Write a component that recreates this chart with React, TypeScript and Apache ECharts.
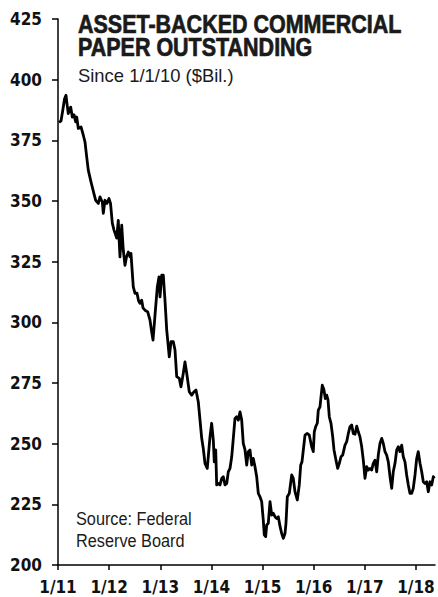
import React, { useEffect, useRef } from "react";
import * as echarts from "echarts";

const years: number[] = [
  2011.02, 2011.059, 2011.098, 2011.127, 2011.156, 2011.176, 2011.201, 2011.248, 2011.28, 2011.313,
  2011.346, 2011.366, 2011.397, 2011.45, 2011.495, 2011.528, 2011.561, 2011.592, 2011.645, 2011.71,
  2011.737, 2011.788, 2011.821, 2011.866, 2011.886, 2011.919, 2011.958, 2011.997, 2012.027, 2012.062,
  2012.095, 2012.148, 2012.179, 2012.193, 2012.212, 2012.246, 2012.277, 2012.31, 2012.34, 2012.375,
  2012.408, 2012.427, 2012.472, 2012.506, 2012.545, 2012.574, 2012.603, 2012.637, 2012.662, 2012.701,
  2012.754, 2012.799, 2012.832, 2012.858, 2012.897, 2012.942, 2012.975, 2012.995, 2013.028, 2013.059,
  2013.092, 2013.126, 2013.176, 2013.21, 2013.255, 2013.288, 2013.321, 2013.372, 2013.405, 2013.45,
  2013.483, 2013.517, 2013.567, 2013.614, 2013.659, 2013.698, 2013.743, 2013.777, 2013.81, 2013.841,
  2013.874, 2013.919, 2013.972, 2014.005, 2014.037, 2014.056, 2014.084, 2014.103, 2014.135, 2014.168,
  2014.201, 2014.232, 2014.266, 2014.299, 2014.33, 2014.363, 2014.397, 2014.428, 2014.461, 2014.494,
  2014.526, 2014.559, 2014.592, 2014.623, 2014.657, 2014.69, 2014.721, 2014.754, 2014.788, 2014.819,
  2014.852, 2014.885, 2014.917, 2014.95, 2014.983, 2015.014, 2015.034, 2015.061, 2015.081, 2015.112,
  2015.146, 2015.179, 2015.21, 2015.243, 2015.277, 2015.308, 2015.341, 2015.374, 2015.406, 2015.439,
  2015.458, 2015.484, 2015.523, 2015.57, 2015.601, 2015.634, 2015.679, 2015.718, 2015.746, 2015.771,
  2015.797, 2015.83, 2015.875, 2015.914, 2015.961, 2015.992, 2016.012, 2016.039, 2016.07, 2016.09,
  2016.123, 2016.143, 2016.168, 2016.201, 2016.227, 2016.254, 2016.28, 2016.305, 2016.338, 2016.372,
  2016.397, 2016.436, 2016.469, 2016.501, 2016.534, 2016.567, 2016.612, 2016.645, 2016.677, 2016.71,
  2016.743, 2016.774, 2016.808, 2016.841, 2016.872, 2016.905, 2016.939, 2016.97, 2017.003, 2017.036,
  2017.068, 2017.101, 2017.134, 2017.165, 2017.199, 2017.232, 2017.263, 2017.296, 2017.33, 2017.361,
  2017.394, 2017.427, 2017.459, 2017.492, 2017.525, 2017.556, 2017.59, 2017.623, 2017.654, 2017.687,
  2017.721, 2017.752, 2017.785, 2017.818, 2017.85, 2017.883, 2017.916, 2017.947, 2017.981, 2018.014,
  2018.045, 2018.079, 2018.112, 2018.143, 2018.176, 2018.209, 2018.241, 2018.274, 2018.307, 2018.339,
  2018.358,
];

const values: number[] = [
  382.4, 383, 388, 392, 393.6, 390, 386, 388.7, 384.6, 385.5,
  382.6, 384.6, 379.9, 380.5, 377.1, 374.3, 368.2, 362.7, 357.9, 352.4,
  350.3, 349, 351.7, 349.6, 344.9, 350.3, 349, 351, 349, 340.9,
  338, 334.7, 342, 335, 327, 340, 329.7, 323.5, 327, 329,
  327, 328.4, 314.6, 311.9, 312, 309, 307.8, 309.1, 306, 305,
  304.3, 300.9, 296, 292.7, 303, 314.6, 318.7, 310.5, 319.4, 319.4,
  309.1, 296.8, 285.8, 292, 292, 288.6, 277.6, 276.9, 273.4, 279,
  283.7, 279, 271.4, 270, 271.4, 272.1, 267.3, 259.7, 252.2, 248,
  241.9, 239.8, 252.8, 258.4, 251.5, 242.5, 247.4, 233, 233.6, 233,
  235.7, 236.4, 233, 233.6, 238.4, 239.8, 244.6, 252.2, 260.4, 261.1,
  259.7, 263.1, 259.7, 250.1, 247.4, 241.2, 246.7, 247.4, 241.2, 243.9,
  240.5, 236.4, 229.5, 228.1, 226.1, 218.5, 212.4, 211.7, 216.5, 217.2,
  226.1, 220.6, 221.3, 219.9, 219.2, 219.9, 216, 213, 211, 213,
  217.2, 228.1, 229.5, 237.1, 235.7, 230.2, 226.8, 233, 241.2, 242.5,
  247.4, 253.5, 254.2, 253.5, 248.7, 246.7, 254.9, 257, 258.4, 263.8,
  265.2, 269.3, 274.1, 272.1, 268.6, 270, 268, 261.1, 258.4, 252.8,
  247.4, 243.2, 239.8, 241.9, 244.6, 245.3, 249.4, 250.8, 254.2, 257,
  257.7, 254.2, 253.9, 257.2, 254.9, 252.8, 248.7, 243.2, 235.7, 240.5,
  239.1, 239.8, 239.1, 241.9, 243.2, 238.4, 245.3, 250.1, 252.2, 250.1,
  246.7, 245.3, 242.5, 236.4, 231.6, 238.4, 241.9, 247.4, 248.7, 246.7,
  249.4, 244.6, 242.5, 237.1, 233, 229.5, 229.5, 231.6, 237.1, 243.9,
  246.7, 241.9, 238.4, 234.3, 233.6, 234.3, 230.2, 234.3, 233, 236.4,
  235.7,
];

const xTickYears: number[] = [2011, 2012, 2013, 2014, 2015, 2016, 2017, 2018];
const yTicks: number[] = [200, 225, 250, 275, 300, 325, 350, 375, 400, 425];

const titleLines: string[] = ["ASSET-BACKED COMMERCIAL", "PAPER OUTSTANDING"];
const subtitle = "Since 1/1/10 ($Bil.)";
const sourceLines: string[] = ["Source: Federal", "Reserve Board"];

const SANS = "'Liberation Sans', Arial, sans-serif";
const COND = "'DejaVu Sans Condensed', 'Liberation Sans', sans-serif";

export default function App() {
  const ref = useRef<HTMLDivElement>(null);
  useEffect(() => {
    document.body.style.margin = "0";
    const chart = echarts.init(ref.current!, null, { renderer: "svg" });
    const data = years.map((y, i) => [y, values[i]]);
    const text = (s: string, x: number, y: number, font: string, sx: number, stroke = 0) => ({
      type: "text",
      x,
      y,
      scaleX: sx,
      style: {
        text: s,
        font,
        fill: "#1a1a1a",
        verticalAlign: "top",
        align: "left",
        ...(stroke ? { stroke: "#1a1a1a", lineWidth: stroke } : {}),
      },
    });
    chart.setOption({
      animation: false,
      backgroundColor: "#fff",
      grid: { left: 58, right: 3, top: 19, bottom: 32, containLabel: false },
      xAxis: {
        type: "value",
        min: 2011,
        max: 2018.372,
        interval: 1,
        splitLine: { show: false },
        axisLine: { show: true, onZero: false, lineStyle: { color: "#000", width: 1.5 } },
        axisTick: { show: true, length: 5, inside: false, customValues: xTickYears, lineStyle: { color: "#000", width: 1.5 } },
        axisLabel: {
          customValues: xTickYears,
          formatter: (v: number) => "1/" + String(Math.round(v)).slice(2),
          color: "#111",
          fontFamily: COND,
          fontWeight: "bold",
          fontSize: 17,
          margin: 13,
        },
      },
      yAxis: {
        type: "value",
        min: 200,
        max: 425,
        interval: 25,
        splitLine: { show: false },
        axisLine: { show: true, lineStyle: { color: "#000", width: 1.5 } },
        axisTick: { show: true, length: 6, lineStyle: { color: "#000", width: 1.5 } },
        axisLabel: {
          customValues: yTicks,
          color: "#111",
          fontFamily: COND,
          fontWeight: "bold",
          fontSize: 17,
          margin: 16,
        },
      },
      series: [
        {
          type: "line",
          data,
          showSymbol: false,
          lineStyle: { color: "#000", width: 2.8, join: "round" },
          silent: true,
        },
      ],
      graphic: [
        text(titleLines[0], 78, 12, `bold 25px ${SANS}`, 0.86, 0.7),
        text(titleLines[1], 78, 35, `bold 25px ${SANS}`, 0.86, 0.7),
        text(subtitle, 78, 66, `19px ${SANS}`, 0.97),
        text(sourceLines[0], 76, 509, `18.5px ${SANS}`, 0.88),
        text(sourceLines[1], 76, 531, `18.5px ${SANS}`, 0.88),
      ],
    });
    return () => chart.dispose();
  }, []);
  return <div ref={ref} style={{ position: "absolute", left: 0, top: 0, width: 438, height: 597 }} />;
}
